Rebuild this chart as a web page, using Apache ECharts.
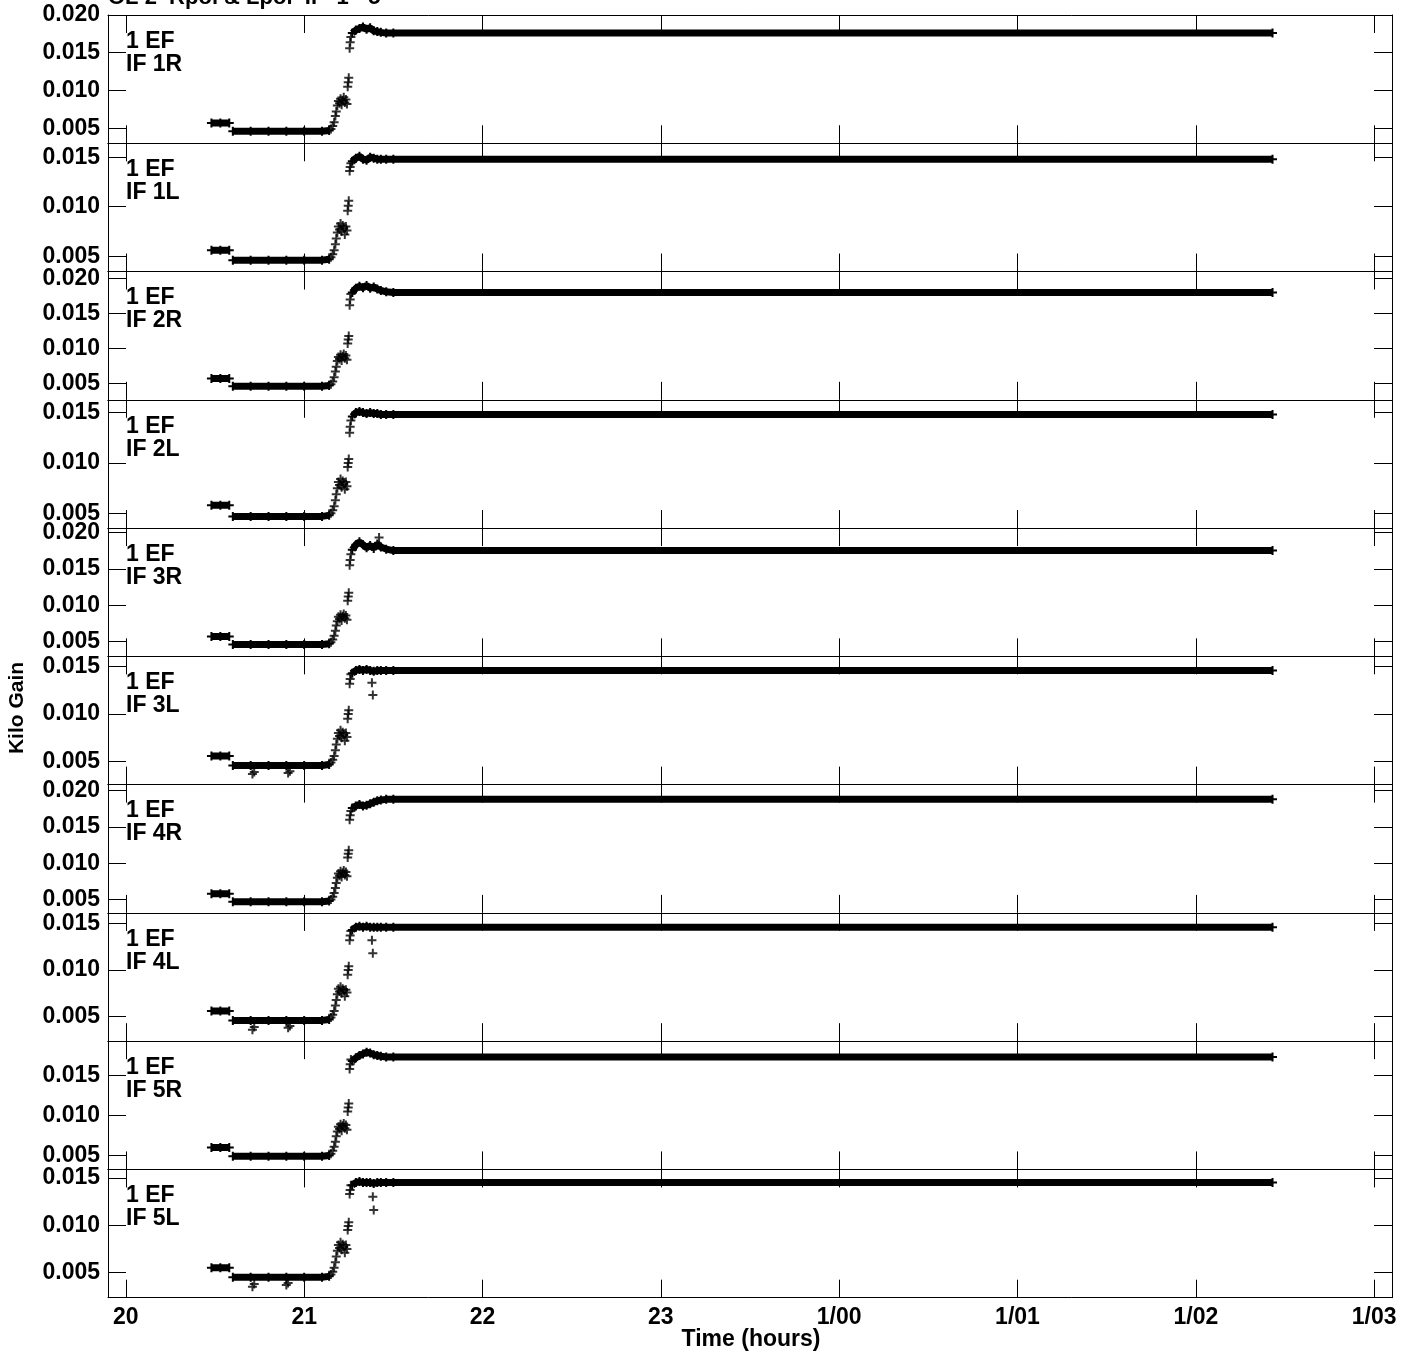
<!DOCTYPE html>
<html>
<head>
<meta charset="utf-8">
<script src="https://cdn.jsdelivr.net/npm/echarts@6/dist/echarts.min.js"></script>
<style>
html,body{margin:0;padding:0;background:#fff;}
#chart{width:1403px;height:1357px;}
</style>
</head>
<body>
<div id="chart"></div>
<script>
// ---- tick labels ----
const xTickVals = [20, 21, 22, 23, 24, 25, 26, 27];
const xTickLabels = ['20', '21', '22', '23', '1/00', '1/01', '1/02', '1/03'];
const yTickVals = [0.005, 0.010, 0.015, 0.020];

// ---- panels ----
const panelLabels = ['IF 1R', 'IF 1L', 'IF 2R', 'IF 2L', 'IF 3R', 'IF 3L', 'IF 4R', 'IF 4L', 'IF 5R', 'IF 5L'];
const yMin = [0.0030, 0.00345, 0.00267, 0.00354, 0.00298, 0.00258, 0.00317, 0.00237, 0.00325, 0.00235];
const yMax = [0.0200, 0.01641, 0.0210, 0.01626, 0.02059, 0.01608, 0.02083, 0.01614, 0.01929, 0.01588];

// ---- first short segment and low segment ----
const segATimes = [20.48, 20.53, 20.58];
const levelA = [0.0057, 0.0056, 0.0057, 0.0058, 0.0057, 0.0056, 0.0058, 0.0056, 0.0060, 0.0055];
const segBTimes = [20.60, 20.70, 20.80, 20.90, 21.00, 21.10, 21.14];
const levelB = [0.0046, 0.0046, 0.0046, 0.0047, 0.0046, 0.0046, 0.0047, 0.0046, 0.0049, 0.0045];

// ---- rise (scattered points) ----
const riseTimes = [21.150, 21.160, 21.168, 21.175, 21.180, 21.186, 21.192, 21.198, 21.204, 21.210, 21.216,
                   21.222, 21.228, 21.234, 21.240, 21.244, 21.247, 21.250, 21.255, 21.258, 21.262];
const rise_1R = [.0049,.0053,.0058,.0066,.0072,.0080,.0086,.0083,.0089,.0081,.0087,.0091,.0084,.0088,.0082,.0105,.0111,.0117,.0156,.0164,.0171];
const rise_1L = [.0049,.0052,.0056,.0062,.0068,.0074,.0080,.0077,.0083,.0075,.0081,.0078,.0072,.0080,.0076,.0096,.0101,.0106,.0136,.0140,.0144];
const rise_2R = [.0049,.0053,.0059,.0067,.0074,.0082,.0088,.0085,.0091,.0083,.0089,.0092,.0086,.0090,.0084,.0107,.0113,.0118,.0162,.0170,.0178];
const rise_2L = [.0050,.0053,.0057,.0063,.0069,.0075,.0081,.0078,.0084,.0076,.0082,.0079,.0074,.0081,.0077,.0096,.0100,.0104,.0130,.0136,.0142];
const rise_3R = [.0049,.0053,.0058,.0065,.0072,.0078,.0084,.0081,.0087,.0079,.0085,.0088,.0082,.0086,.0080,.0106,.0112,.0117,.0155,.0162,.0170];
const rise_3L = [.0049,.0052,.0056,.0062,.0068,.0074,.0080,.0077,.0083,.0075,.0081,.0078,.0072,.0080,.0076,.0095,.0100,.0104,.0132,.0137,.0142];
const rise_4R = [.0050,.0054,.0059,.0066,.0073,.0080,.0086,.0083,.0089,.0081,.0087,.0090,.0084,.0088,.0082,.0108,.0113,.0118,.0160,.0166,.0172];
const rise_4L = [.0049,.0052,.0056,.0062,.0068,.0074,.0080,.0077,.0082,.0075,.0080,.0078,.0072,.0079,.0076,.0095,.0100,.0104,.0132,.0137,.0142];
const rise_5R = [.0052,.0056,.0061,.0067,.0074,.0080,.0086,.0083,.0089,.0081,.0087,.0090,.0084,.0088,.0082,.0105,.0110,.0115,.0158,.0164,.0170];
const rise_5L = [.0048,.0051,.0055,.0061,.0067,.0073,.0079,.0076,.0082,.0074,.0080,.0077,.0071,.0079,.0075,.0095,.0099,.0103,.0133,.0137,.0142];
const riseVals = [rise_1R, rise_1L, rise_2R, rise_2L, rise_3R, rise_3L, rise_4R, rise_4L, rise_5R, rise_5L];

// ---- plateau ----
const platTimes = [21.27, 21.29, 21.31, 21.33, 21.35, 21.37, 21.39, 21.41, 21.43, 21.46, 21.50, 26.43];
const plat_1R = [.0176,.0180,.0182,.0184,.0181,.0183,.0179,.0178,.0177,.0176,.0176,.0176];
const plat_1L = [.0146,.0149,.0151,.0148,.0147,.0150,.0149,.0148,.0148,.0148,.0148,.0148];
const plat_2R = [.0180,.0186,.0189,.0187,.0190,.0186,.0188,.0185,.0183,.0181,.0180,.0180];
const plat_2L = [.0146,.0150,.0151,.0150,.0149,.0150,.0149,.0149,.0148,.0148,.0148,.0148];
const plat_3R = [.0176,.0183,.0187,.0183,.0179,.0182,.0178,.0184,.0180,.0177,.0175,.0175];
const plat_3L = [.0143,.0146,.0147,.0146,.0147,.0146,.0145,.0146,.0146,.0146,.0146,.0146];
const plat_4R = [.0176,.0179,.0181,.0179,.0180,.0182,.0184,.0186,.0187,.0188,.0188,.0188];
const plat_4L = [.0143,.0146,.0147,.0146,.0147,.0146,.0146,.0146,.0146,.0146,.0146,.0146];
const plat_5R = [.0168,.0172,.0175,.0177,.0179,.0178,.0176,.0175,.0174,.0173,.0173,.0173];
const plat_5L = [.0142,.0145,.0146,.0145,.0145,.0145,.0144,.0145,.0145,.0145,.0145,.0145];
const platVals = [plat_1R, plat_1L, plat_2R, plat_2L, plat_3R, plat_3L, plat_4R, plat_4L, plat_5R, plat_5L];

// ---- isolated outliers [time, value] ----
const outl_1R = [], outl_1L = [], outl_2R = [], outl_2L = [];
const outl_3R = [[21.42, 0.0193]];
const outl_3L = [[20.71, 0.0037], [20.72, 0.0039], [20.91, 0.0038], [20.92, 0.0040], [21.38, 0.0133], [21.385, 0.0120]];
const outl_4R = [];
const outl_4L = [[20.71, 0.0036], [20.72, 0.0039], [20.91, 0.0038], [20.92, 0.0040], [21.38, 0.0132], [21.385, 0.0118]];
const outl_5R = [];
const outl_5L = [[20.71, 0.0035], [20.72, 0.0038], [20.90, 0.0037], [20.91, 0.0039], [21.385, 0.0130], [21.39, 0.0116]];
const outlVals = [outl_1R, outl_1L, outl_2R, outl_2L, outl_3R, outl_3L, outl_4R, outl_4L, outl_5R, outl_5L];

// ---- layout / style ----
const FONT = '"Liberation Sans", Arial, Helvetica, sans-serif';
const PLOT_TOP = 15, PANEL_H = 128.27, LEFT = 108, RIGHT = 11;
const PLUS = 'path://M3.5,0H5.5V3.5H9V5.5H5.5V9H3.5V5.5H0V3.5H3.5Z';
const X_MIN = 19.9, X_MAX = 27.1;

const chart = echarts.init(document.getElementById('chart'), null, {renderer: 'canvas'});

const grids = [], xAxes = [], yAxes = [], series = [], titles = [];
const axisLineStyle = {color: '#000', width: 1};

titles.push({
  text: 'OL 2  Rpol & Lpol  IF  1 - 5',
  left: LEFT, top: -13, padding: 0,
  textStyle: {fontFamily: FONT, fontWeight: 'bold', fontSize: 22, color: '#000'}
});

for (let i = 0; i < 10; i++) {
  const top = PLOT_TOP + i * PANEL_H;
  grids.push({left: LEFT, right: RIGHT, top: top, height: PANEL_H, containLabel: false});
  const isBottom = i === 9;
  const xTickCommon = {show: true, inside: true, length: 18, customValues: xTickVals, lineStyle: {color: '#000', width: 1}};
  xAxes.push({
    gridIndex: i, type: 'value', min: X_MIN, max: X_MAX, position: 'bottom',
    axisLine: {show: true, onZero: false, lineStyle: axisLineStyle},
    axisTick: xTickCommon,
    axisLabel: {
      show: isBottom, customValues: xTickVals, margin: 8,
      formatter: v => { const k = xTickVals.indexOf(Math.round(v)); return k >= 0 ? xTickLabels[k] : ''; },
      fontFamily: FONT, fontWeight: 'bold', fontSize: 23, color: '#000'
    },
    splitLine: {show: false}
  });
  xAxes.push({
    gridIndex: i, type: 'value', min: X_MIN, max: X_MAX, position: 'top',
    axisLine: {show: true, onZero: false, lineStyle: axisLineStyle},
    axisTick: xTickCommon,
    axisLabel: {show: false},
    splitLine: {show: false}
  });
  const yt = yTickVals.filter(v => v >= yMin[i] - 1e-9 && v <= yMax[i] + 1e-9);
  const yTickCommon = {show: true, inside: true, length: 18, customValues: yt, lineStyle: {color: '#000', width: 1}};
  yAxes.push({
    gridIndex: i, type: 'value', min: yMin[i], max: yMax[i], position: 'left',
    axisLine: {show: true, onZero: false, lineStyle: axisLineStyle},
    axisTick: yTickCommon,
    axisLabel: {
      show: true, customValues: yt, margin: 8,
      formatter: v => v.toFixed(3),
      fontFamily: FONT, fontWeight: 'bold', fontSize: 23, color: '#000'
    },
    splitLine: {show: false}
  });
  yAxes.push({
    gridIndex: i, type: 'value', min: yMin[i], max: yMax[i], position: 'right',
    axisLine: {show: true, onZero: false, lineStyle: axisLineStyle},
    axisTick: yTickCommon,
    axisLabel: {show: false},
    splitLine: {show: false}
  });

  const xi = 2 * i, yi = 2 * i;
  const bandStyle = {
    type: 'line', xAxisIndex: xi, yAxisIndex: yi,
    showSymbol: true, symbol: PLUS, symbolSize: 9,
    itemStyle: {color: '#000'},
    lineStyle: {color: '#000', width: 7, cap: 'butt'},
    animation: false, silent: true, z: 3
  };
  series.push(Object.assign({}, bandStyle, {data: segATimes.map(t => [t, levelA[i]])}));
  series.push(Object.assign({}, bandStyle, {data: segBTimes.map((t, k) => [t, k === segBTimes.length - 1 ? levelB[i] + 0.0001 : levelB[i]])}));
  series.push(Object.assign({}, bandStyle, {data: platTimes.map((t, k) => [t, platVals[i][k]])}));
  series.push({
    type: 'scatter', xAxisIndex: xi, yAxisIndex: yi,
    symbol: PLUS, symbolSize: 9, itemStyle: {color: '#000'},
    data: riseTimes.map((t, k) => [t, riseVals[i][k]]).concat(outlVals[i]),
    animation: false, silent: true, z: 4
  });

  titles.push({
    text: '1 EF\n' + panelLabels[i],
    left: 126, top: top + 15, padding: 0,
    textStyle: {fontFamily: FONT, fontWeight: 'bold', fontSize: 23, lineHeight: 23, color: '#000'}
  });
}

const option = {
  backgroundColor: '#fff',
  animation: false,
  title: titles,
  grid: grids,
  xAxis: xAxes,
  yAxis: yAxes,
  series: series,
  graphic: [
    {type: 'text', x: 751, y: 1340,
     style: {text: 'Time (hours)', font: 'bold 23px ' + FONT, fill: '#000', align: 'center', verticalAlign: 'middle'}},
    {type: 'text', x: 17, y: 708, rotation: Math.PI / 2,
     style: {text: 'Kilo Gain', font: 'bold 21px ' + FONT, fill: '#000', align: 'center', verticalAlign: 'middle'}}
  ]
};
chart.setOption(option);
</script>
</body>
</html>
